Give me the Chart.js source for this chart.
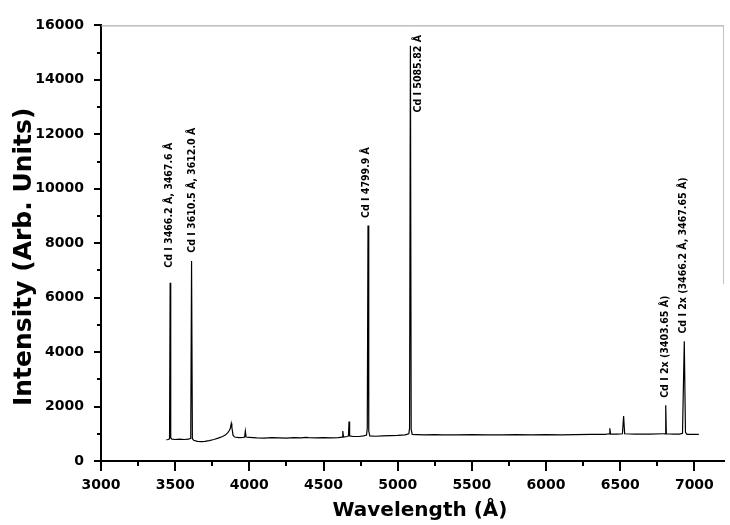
<!DOCTYPE html>
<html>
<head>
<meta charset="utf-8">
<script src="https://cdn.jsdelivr.net/npm/chart.js@4.4.0/dist/chart.umd.min.js"></script>
<style>
  html, body { margin: 0; padding: 0; background: #ffffff; }
  #wrap { width: 730px; height: 525px; position: relative; }
</style>
</head>
<body>
<div id="wrap"><canvas id="specChart" width="730" height="525"></canvas></div>
<script>
// spectrum (wavelength in Å, intensity in arb. units)
const wavelength = [
    3440, 3455, 3462, 3466.2, 3470, 3478, 3500, 3530, 3560, 3590, 3605, 3610.5, 3616, 3625,
    3650, 3680, 3700, 3730, 3760, 3790, 3820, 3840, 3855, 3865, 3872, 3878, 3882, 3886, 3890,
    3900, 3930, 3960, 3968, 3973, 3978, 4000, 4050, 4100, 4150, 4200, 4250, 4300, 4350, 4380,
    4400, 4450, 4500, 4550, 4600, 4625, 4630, 4635, 4660, 4668, 4672, 4676, 4700, 4740, 4770,
    4790, 4795, 4799.9, 4805, 4812, 4850, 4900, 4950, 5000, 5050, 5075, 5080, 5085.8, 5091,
    5098, 5130, 5180, 5250, 5300, 5400, 5500, 5600, 5700, 5800, 5900, 6000, 6100, 6200, 6300,
    6400, 6425, 6430, 6435, 6480, 6515, 6523, 6530, 6600, 6700, 6790, 6803, 6807, 6811, 6860,
    6900, 6920, 6932, 6940, 6950, 7000, 7030
];
const intensity = [
    780, 790, 820, 6550, 850, 800, 790, 800, 790, 800, 830, 7350, 820, 760,
    720, 710, 720, 750, 790, 840, 900, 960, 1040, 1120, 1200, 1380, 1250, 1100, 950,
    880, 860, 870, 880, 1100, 880, 870, 850, 840, 860, 850, 840, 860, 850, 870,
    860, 850, 860, 850, 860, 880, 1100, 880, 900, 920, 1450, 920, 900, 900, 920,
    950, 1200, 8650, 1100, 920, 910, 920, 930, 940, 960, 1000, 1200, 15250, 1150,
    980, 970, 960, 970, 960, 960, 970, 960, 960, 970, 960, 970, 960, 970, 975,
    980, 1000, 1200, 990, 990, 1000, 1650, 1000, 990, 990, 1000, 1000, 2050, 1000, 990,
    990, 1020, 4400, 1050, 980, 980, 980
];

// axis ticks: every value gets a mark, the labelled ones get a long mark
const xTicks = [3000, 3250, 3500, 3750, 4000, 4250, 4500, 4750, 5000, 5250, 5500,
    5750, 6000, 6250, 6500, 6750, 7000];
const xTickLabels = ['3000', '3500', '4000', '4500', '5000', '5500', '6000', '6500', '7000'];
const yTicks = [0, 1000, 2000, 3000, 4000, 5000, 6000, 7000, 8000, 9000, 10000,
    11000, 12000, 13000, 14000, 15000, 16000];
const yTickLabels = ['0', '2000', '4000', '6000', '8000', '10000', '12000', '14000', '16000'];

// line labels: text, wavelength of the label, intensity where the text starts
const lineLabels = [
    'Cd I 3466.2 Å, 3467.6 Å',
    'Cd I 3610.5 Å, 3612.0 Å',
    'Cd I 4799.9 Å',
    'Cd I 5085.82 Å',
    'Cd I 2x (3403.65 Å)',
    'Cd I 2x (3466.2 Å, 3467.65 Å)'
];
const labelWavelength = [3462, 3614, 4786, 5135, 6800, 6925];
const labelIntensity = [7100, 7650, 8925, 12800, 2320, 4680];

const xTitle = 'Wavelength (Å)';
const yTitle = 'Intensity (Arb. Units)';

const showLabel = (list, v) => (list.includes(String(v)) ? String(v) : '');

// tick marks (major ones are longer), titles and the line labels
const decorPlugin = {
    id: 'decor',
    afterDraw(chart) {
        const ctx = chart.ctx;
        const xs = chart.scales.x;
        const ys = chart.scales.y;
        const area = chart.chartArea;
        ctx.save();

        // faint frame at top and right
        ctx.strokeStyle = '#9a9a9a';
        ctx.lineWidth = 1;
        ctx.beginPath();
        ctx.moveTo(area.left, area.top + 0.5);
        ctx.lineTo(area.right, area.top + 0.5);
        ctx.stroke();
        ctx.strokeStyle = '#c4c4c4';
        ctx.beginPath();
        ctx.moveTo(area.right - 0.5, area.top);
        ctx.lineTo(area.right - 0.5, ys.getPixelForValue(6500));
        ctx.stroke();

        ctx.strokeStyle = '#000';
        ctx.lineWidth = 2;
        xs.ticks.forEach(t => {
            const px = Math.round(xs.getPixelForValue(t.value));
            const len = showLabel(xTickLabels, t.value) ? 10 : 5;
            ctx.beginPath();
            ctx.moveTo(px, area.bottom);
            ctx.lineTo(px, area.bottom + len);
            ctx.stroke();
        });
        ys.ticks.forEach(t => {
            const py = Math.round(ys.getPixelForValue(t.value));
            const len = showLabel(yTickLabels, t.value) ? 7 : 4;
            ctx.beginPath();
            ctx.moveTo(area.left, py);
            ctx.lineTo(area.left - len, py);
            ctx.stroke();
        });

        ctx.fillStyle = '#000';
        ctx.font = 'bold 20px "DejaVu Sans"';
        ctx.textAlign = 'center';
        ctx.textBaseline = 'middle';
        ctx.fillText(xTitle, xs.getPixelForValue(5150), 511);

        ctx.save();
        ctx.translate(24, ys.getPixelForValue(7500));
        ctx.rotate(-Math.PI / 2);
        ctx.font = 'bold 25px "DejaVu Sans"';
        ctx.fillText(yTitle, 0, 0);
        ctx.restore();

        // condensed bold labels, reading bottom to top
        ctx.font = 'bold 11px "DejaVu Sans"';
        ctx.textAlign = 'left';
        ctx.textBaseline = 'middle';
        lineLabels.forEach((txt, i) => {
            ctx.save();
            ctx.translate(xs.getPixelForValue(labelWavelength[i]), ys.getPixelForValue(labelIntensity[i]));
            ctx.rotate(-Math.PI / 2);
            ctx.scale(0.86, 1);
            ctx.fillText(txt, 0, 0);
            ctx.restore();
        });
        ctx.restore();
    }
};

const specChart = new Chart(document.getElementById('specChart'), {
    type: 'line',
    data: {
        datasets: [{
            data: wavelength.map((w, i) => ({ x: w, y: intensity[i] })),
            borderColor: '#000000',
            borderWidth: 1.2,
            pointRadius: 0,
            tension: 0,
            fill: false
        }]
    },
    options: {
        responsive: false,
        animation: false,
        layout: { padding: { top: 20, right: 3, left: 0, bottom: 0 } },
        plugins: {
            legend: { display: false },
            tooltip: { enabled: false }
        },
        scales: {
            x: {
                type: 'linear',
                min: 3000,
                max: 7200,
                grid: { display: false, drawTicks: false },
                border: { display: true, color: '#000', width: 2 },
                ticks: {
                    autoSkip: false,
                    maxRotation: 0,
                    padding: 16,
                    color: '#000',
                    font: { family: 'DejaVu Sans', size: 14, weight: 'bold' },
                    callback: v => showLabel(xTickLabels, v)
                },
                afterBuildTicks: scale => { scale.ticks = xTicks.map(v => ({ value: v })); },
                afterFit: scale => { scale.height = 64; }
            },
            y: {
                min: 0,
                max: 16000,
                grid: { display: false, drawTicks: false },
                border: { display: true, color: '#000', width: 2 },
                ticks: {
                    autoSkip: false,
                    padding: 17,
                    color: '#000',
                    font: { family: 'DejaVu Sans', size: 14, weight: 'bold' },
                    callback: v => showLabel(yTickLabels, v)
                },
                afterBuildTicks: scale => { scale.ticks = yTicks.map(v => ({ value: v })); },
                afterFit: scale => { scale.width = 101; }
            }
        }
    },
    plugins: [decorPlugin]
});
</script>
</body>
</html>
